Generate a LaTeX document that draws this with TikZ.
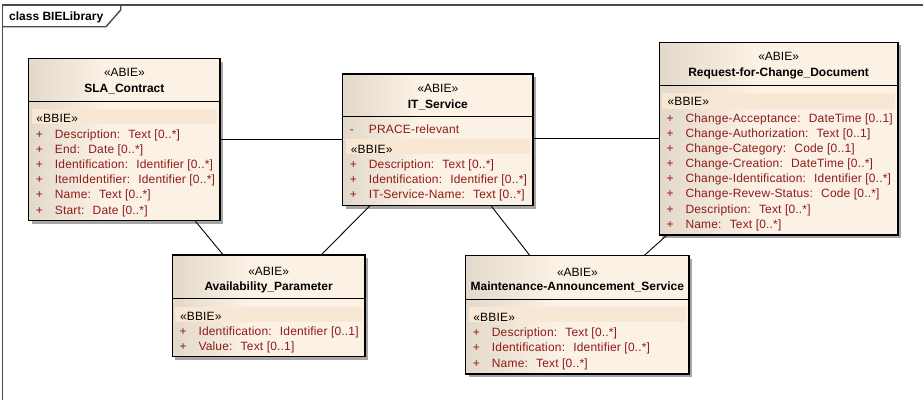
\documentclass[tikz,border=0pt]{standalone}
\usepackage{fontspec}
\setmainfont{Liberation Sans}
\newfontfamily\attrfont[LetterSpace=1.5]{Liberation Sans}
\usetikzlibrary{shadows,calc}

\definecolor{boxL}{HTML}{E2D9CB}
\definecolor{boxR}{HTML}{FBF1E4}
\definecolor{bandcol}{HTML}{F8E7D2}
\definecolor{attrcol}{HTML}{8E1B1B}
\definecolor{framecol}{HTML}{4A4A4A}

% class boxes fade from a greyish beige on the left into cream
\pgfdeclarehorizontalshading{classfill}{100bp}{color(0bp)=(boxL); color(25bp)=(boxL); color(45bp)=(boxR); color(100bp)=(boxR)}

\tikzset{
  classbox/.style={draw=black, line width=1.2pt, shading=classfill, anchor=north west,
    inner sep=0pt, outer sep=0pt,
    drop shadow={shadow xshift=3pt, shadow yshift=-3pt, fill=black!35, opacity=1}},
  divider/.style={draw=black, line width=1pt},
  assoc/.style={draw=black, line width=0.9pt},
  stereo/.style={anchor=base, inner sep=0pt, font=\fontsize{12}{14}\selectfont},
  cname/.style={anchor=base, inner sep=0pt, font=\fontsize{12}{14}\selectfont\bfseries},
  attr/.style={anchor=base west, inner sep=0pt, text=attrcol, font=\fontsize{12}{14}\attrfont},
  bbie/.style={anchor=base west, inner sep=0pt, font=\fontsize{12}{14}\attrfont},
}

% header: name, centre x, y of stereotype, y of class name, class name
\newcommand\classhead[5]{%
  \node[stereo] (#1-st) at (#2,#3+4) {«ABIE»};
  \node[cname] (#1-nm) at (#2,#4+4) {#5};}
% attribute row: name, left edge of box, y, visibility, text
\newcommand\attrrow[5]{%
  \node[attr] (#1-v) at (#2+7,#3+4) {#4};
  \node[attr] (#1) at (#2+26,#3+4) {#5};}

\begin{document}
\begin{tikzpicture}[x=1pt,y=-1pt]
\useasboundingbox (0,0) rectangle (923,399);
\fill[white] (0,0) rectangle (923,399);

% package frame with its name tab
\draw[framecol, line width=1.4pt] (2.7,400) -- (2.7,5) -- (924,5);
\draw[framecol, line width=1.4pt] (2.7,26.7) -- (106,26.7) -- (120.7,10) -- (120.7,5);
\node[anchor=base west, inner sep=0pt, font=\fontsize{12}{14}\selectfont\bfseries] (pkg) at (9,20) {class BIELibrary};

% ---------- SLA_Contract ----------
\node[classbox, minimum width=191.3pt, minimum height=162pt] (sla) at (28.7,58.7) {};
\classhead{sla}{124.35}{72.7}{88.3}{SLA\_Contract}
\draw[divider] (sla.west |- 0,101) -- (sla.east |- 0,101);
\fill[bandcol] (31.7,109) rectangle (217,124);
\node[bbie] (sla-b) at (36.2,118.7+4) {«BBIE»};
\attrrow{sla-1}{28.7}{134}{+}{Description:~ Text [0..*]}
\attrrow{sla-2}{28.7}{149.2}{+}{End:~ Date [0..*]}
\attrrow{sla-3}{28.7}{164.4}{+}{Identification:~ Identifier [0..*]}
\attrrow{sla-4}{28.7}{179.6}{+}{ItemIdentifier:~ Identifier [0..*]}
\attrrow{sla-5}{28.7}{194.8}{+}{Name:~ Text [0..*]}
\attrrow{sla-6}{28.7}{210}{+}{Start:~ Date [0..*]}

% ---------- IT_Service ----------
\node[classbox, minimum width=190.3pt, minimum height=131.7pt] (it) at (342.7,74) {};
\classhead{it}{437.85}{88.3}{104}{IT\_Service}
\draw[divider] (it.west |- 0,116.7) -- (it.east |- 0,116.7);
\attrrow{it-0}{342.7}{129}{-}{PRACE-relevant}
\fill[bandcol] (345.7,139) rectangle (530,154);
\node[bbie] (it-b) at (350.7,149+4) {«BBIE»};
\attrrow{it-1}{342.7}{164.3}{+}{Description:~ Text [0..*]}
\attrrow{it-2}{342.7}{179.5}{+}{Identification:~ Identifier [0..*]}
\attrrow{it-3}{342.7}{194.7}{+}{IT-Service-Name:~ Text [0..*]}

% ---------- Request-for-Change_Document ----------
\node[classbox, minimum width=238.7pt, minimum height=192.7pt] (req) at (659.3,42.3) {};
\classhead{req}{778.65}{56.7}{72.3}{Request-for-Change\_Document}
\draw[divider] (req.west |- 0,85) -- (req.east |- 0,85);
\fill[bandcol] (662.3,93.3) rectangle (895,109);
\node[bbie] (req-b) at (667.3,101.7+4) {«BBIE»};
\attrrow{req-1}{659.3}{118.7}{+}{Change-Acceptance:~ DateTime [0..1]}
\attrrow{req-2}{659.3}{133.6}{+}{Change-Authorization:~ Text [0..1]}
\attrrow{req-3}{659.3}{148.5}{+}{Change-Category:~ Code [0..1]}
\attrrow{req-4}{659.3}{163.5}{+}{Change-Creation:~ DateTime [0..*]}
\attrrow{req-5}{659.3}{178.4}{+}{Change-Identification:~ Identifier [0..*]}
\attrrow{req-6}{659.3}{193.7}{+}{Change-Revew-Status:~ Code [0..*]}
\attrrow{req-7}{659.3}{209.1}{+}{Description:~ Text [0..*]}
\attrrow{req-8}{659.3}{224}{+}{Name:~ Text [0..*]}

% ---------- Availability_Parameter ----------
\node[classbox, minimum width=192.7pt, minimum height=101.7pt] (avail) at (172.3,255) {};
\classhead{avail}{268.65}{271.7}{286}{Availability\_Parameter}
\draw[divider] (avail.west |- 0,298) -- (avail.east |- 0,298);
\fill[bandcol] (175.3,306.7) rectangle (362,321.7);
\node[bbie] (avail-b) at (179.8,316.3+4) {«BBIE»};
\attrrow{avail-1}{172.3}{331.2}{+}{Identification:~ Identifier [0..1]}
\attrrow{avail-2}{172.3}{346.6}{+}{Value:~ Text [0..1]}

% ---------- Maintenance-Announcement_Service ----------
\node[classbox, minimum width=223.3pt, minimum height=118.3pt] (maint) at (465.7,255.7) {};
\classhead{maint}{577.35}{272.3}{286.7}{Maintenance-Announcement\_Service}
\draw[divider] (maint.west |- 0,299.3) -- (maint.east |- 0,299.3);
\fill[bandcol] (468.7,307.3) rectangle (686,322.3);
\node[bbie] (maint-b) at (473.2,317.3+4) {«BBIE»};
\attrrow{maint-1}{465.7}{332.2}{+}{Description:~ Text [0..*]}
\attrrow{maint-2}{465.7}{347.9}{+}{Identification:~ Identifier [0..*]}
\attrrow{maint-3}{465.7}{363.3}{+}{Name:~ Text [0..*]}

% ---------- associations ----------
\draw[assoc] (sla.east |- it.west) -- (it.west);
\draw[assoc] (it.east |- req.west) -- (req.west);
\draw[assoc] ([xshift=166.3pt]sla.south west) -- ([xshift=51pt]avail.north west);
\draw[assoc] ([xshift=27.3pt]it.south west) -- ([xshift=148.7pt]avail.north west);
\draw[assoc] ([xshift=148.3pt]it.south west) -- ([xshift=64.3pt]maint.north west);
\draw[assoc] ([xshift=7.7pt]req.south west) -- ([xshift=178.3pt]maint.north west);
\end{tikzpicture}
\end{document}
